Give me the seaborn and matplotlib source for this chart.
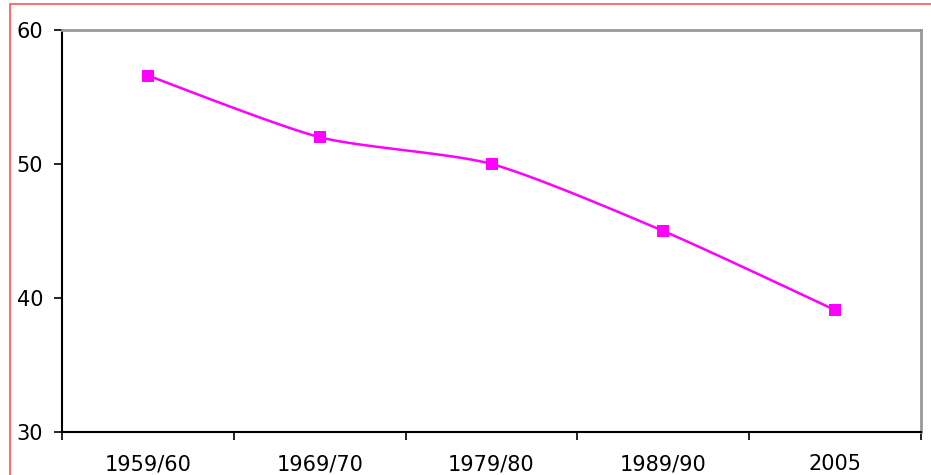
import matplotlib
matplotlib.use("Agg")
import matplotlib.pyplot as plt
import numpy as np
import pandas as pd
import seaborn as sns
from matplotlib.patches import Rectangle

periods = ["1959/60", "1969/70", "1979/80", "1989/90", "2005"]
values = [56.6, 52.0, 50.0, 45.0, 39.1]

sns.set_style("white")
plt.rcParams['font.family'] = ['DejaVu Sans']

# category centres on a numeric axis so ticks can sit between categories
xpos = np.arange(len(periods)) + 0.5
df = pd.DataFrame({"x": xpos, "value": values, "period": periods})


def smooth_curve(x, y, n=30, k=0.7):
    # Catmull-Rom style smoothing, slightly softened tangents
    px = np.concatenate([[x[0]], x, [x[-1]]])
    py = np.concatenate([[y[0]], y, [y[-1]]])
    xs, ys = [], []
    t = np.linspace(0, 1, n)
    h00 = 2 * t**3 - 3 * t**2 + 1
    h10 = t**3 - 2 * t**2 + t
    h01 = -2 * t**3 + 3 * t**2
    h11 = t**3 - t**2
    for i in range(1, len(px) - 2):
        for p, out in ((px, xs), (py, ys)):
            m1 = k * (p[i + 1] - p[i - 1]) / 2
            m2 = k * (p[i + 2] - p[i]) / 2
            out.extend(h00 * p[i] + h10 * m1 + h01 * p[i + 1] + h11 * m2)
    return np.array(xs), np.array(ys)


sx, sy = smooth_curve(df["x"].values, df["value"].values)
smooth = pd.DataFrame({"x": sx, "value": sy})

fig = plt.figure(figsize=(9.31, 4.75), dpi=100)
ax = fig.add_axes([62 / 931, 1 - 432 / 475, (921 - 62) / 931, (432 - 30) / 475])

sns.lineplot(data=smooth, x="x", y="value", color="#ff00ff", lw=1.8,
             sort=False, estimator=None, ax=ax)
sns.scatterplot(data=df, x="x", y="value", marker="s", s=85, color="#ff00ff",
                edgecolor="#ff00ff", linewidth=0, zorder=5, ax=ax)

ax.set_xlim(0, len(periods))
ax.set_ylim(30, 60)
ax.set_yticks([30, 40, 50, 60])
ax.set_xticks(np.arange(len(periods) + 1))
ax.set_xticklabels([])
ax.set_xticks(xpos, minor=True)
ax.set_xticklabels(periods, minor=True)
ax.tick_params(axis="x", which="major", direction="out", length=6, width=1.2,
               color="black", bottom=True)
ax.tick_params(axis="x", which="minor", length=0, pad=16, labelsize=15,
               labelcolor="black")
ax.tick_params(axis="y", direction="out", length=6, width=1.2, color="black",
               left=True, labelsize=15, labelcolor="black", pad=7.5)
ax.set_xlabel("")
ax.set_ylabel("")
ax.grid(False)

for side in ("left", "bottom"):
    ax.spines[side].set_color("black")
    ax.spines[side].set_linewidth(1.5)
for side in ("top", "right"):
    ax.spines[side].set_color("#999999")
    ax.spines[side].set_linewidth(2)

fig.patches.append(Rectangle((10 / 931, -0.1), 1.2, 1 - 4 / 475 + 0.1,
                             transform=fig.transFigure, fill=False,
                             edgecolor="#ff5555", lw=1.2, zorder=10))

fig.savefig("out.png", dpi=100)
